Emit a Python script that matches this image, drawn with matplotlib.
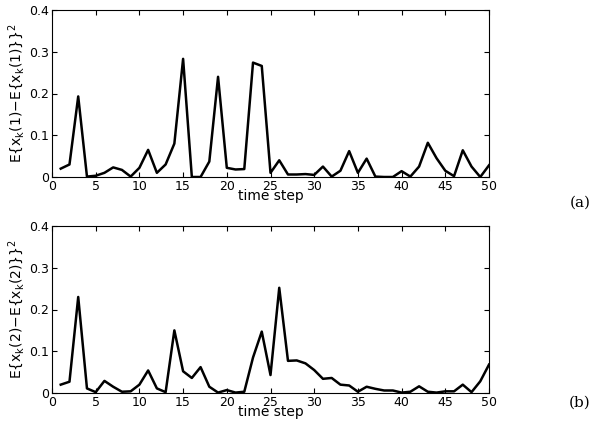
import matplotlib
matplotlib.use("Agg")
from matplotlib import pyplot as plt

steps = list(range(1, 51))
err_x1 = [0.02, 0.03, 0.193, 0.001, 0.003, 0.01, 0.023, 0.017, 0.001, 0.022,
          0.065, 0.01, 0.03, 0.08, 0.283, 0.0, 0.0, 0.037, 0.24, 0.022,
          0.018, 0.019, 0.274, 0.266, 0.01, 0.04, 0.006, 0.006, 0.007, 0.005,
          0.025, 0.001, 0.015, 0.062, 0.01, 0.044, 0.001, 0.0, 0.0, 0.014,
          0.001, 0.025, 0.082, 0.045, 0.015, 0.002, 0.064, 0.025, 0.0, 0.028]
err_x2 = [0.02, 0.027, 0.23, 0.011, 0.002, 0.029, 0.015, 0.003, 0.004, 0.02,
          0.054, 0.011, 0.002, 0.15, 0.052, 0.036, 0.062, 0.015, 0.001, 0.007,
          0.001, 0.003, 0.085, 0.147, 0.043, 0.252, 0.077, 0.078, 0.071, 0.055,
          0.034, 0.036, 0.02, 0.018, 0.003, 0.015, 0.01, 0.006, 0.006, 0.001,
          0.003, 0.016, 0.003, 0.001, 0.004, 0.004, 0.02, 0.002, 0.028, 0.068]

fig = plt.figure(figsize=(5.97, 4.32), dpi=100)
W, H = 597, 432
panels = [
    (err_x1, r'E{x$_\mathrm{k}$(1)$-$E{x$_\mathrm{k}$(1)}}$^2$', '(a)', 10, 203),
    (err_x2, r'E{x$_\mathrm{k}$(2)$-$E{x$_\mathrm{k}$(2)}}$^2$', '(b)', 226, 403),
]
for data, ylab, tag, top, tag_y in panels:
    ax = fig.add_axes([52 / W, 1 - 177 / H if top == 10 else 1 - 393 / H,
                       437 / W, 167 / H])
    ax.plot(steps, data, color='black', linewidth=1.8)
    ax.set_xlim(0, 50)
    ax.set_ylim(0, 0.4)
    ax.set_xticks(range(0, 51, 5))
    ax.set_yticks([0, 0.1, 0.2, 0.3, 0.4])
    ax.set_yticklabels(['0', '0.1', '0.2', '0.3', '0.4'])
    ax.tick_params(direction='in', top=True, right=True, labelsize=9, pad=2)
    ax.set_xlabel('time step', fontsize=10, labelpad=-3)
    ax.set_ylabel(ylab, fontsize=10, labelpad=2)
    fig.text(580 / W, 1 - tag_y / H, tag, fontsize=11, family='DejaVu Serif',
             ha='center', va='center')

fig.savefig('out.png', dpi=100)
